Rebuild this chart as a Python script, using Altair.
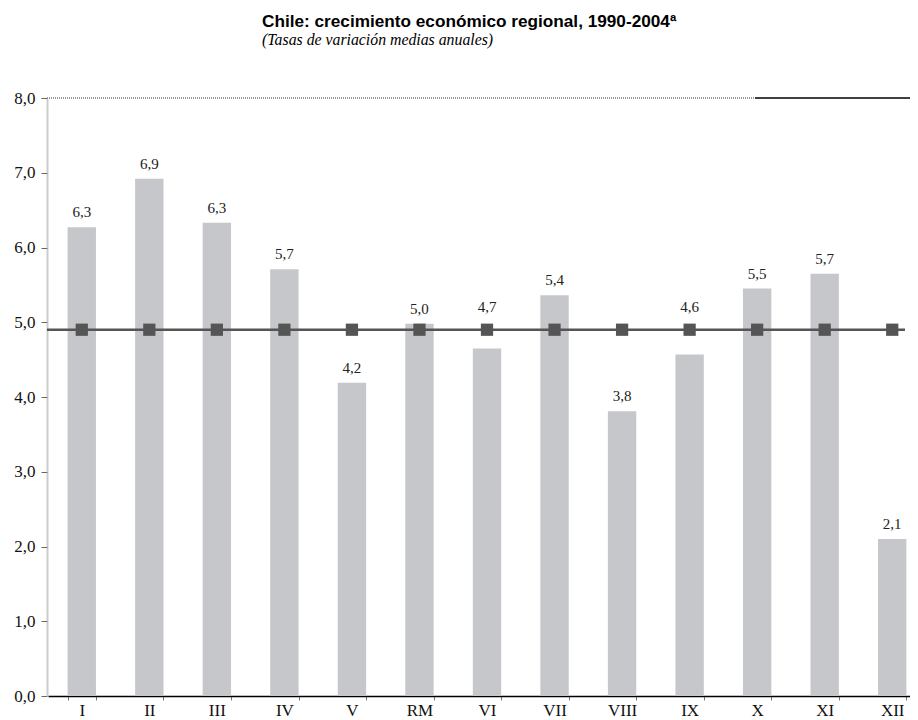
import altair as alt
import pandas as pd

regions = ["I", "II", "III", "IV", "V", "RM", "VI", "VII", "VIII", "IX", "X", "XI", "XII"]
growth = [6.27, 6.92, 6.33, 5.71, 4.19, 4.98, 4.65, 5.36, 3.81, 4.57, 5.45, 5.65, 2.10]
labels = ["6,3", "6,9", "6,3", "5,7", "4,2", "5,0", "4,7", "5,4", "3,8", "4,6", "5,5", "5,7", "2,1"]
national_avg = 4.9
y_ticks = [0, 1, 2, 3, 4, 5, 6, 7, 8]

# labels of bars just under the average line are lifted above the line
label_anchor = [max(v, national_avg + 0.1) if national_avg - 0.5 < v < national_avg else v
                for v in growth]

df = pd.DataFrame({"region": regions, "growth": growth, "label": labels,
                   "label_y": label_anchor,
                   "avg": [national_avg] * len(regions)})
avg_df = pd.DataFrame({"avg": [national_avg]})

W = 863          # visible plot width (the original is cut off at the right edge)
H = 598
X_RANGE = 879    # full extent of the category axis, partly beyond the visible area
serif = "Liberation Serif"

x_scale = alt.Scale(paddingInner=0.58, paddingOuter=0.29, range=[1, X_RANGE])

x_enc = alt.X("region:N", sort=regions, title=None, scale=x_scale,
              axis=alt.Axis(labelAngle=0, labelFont=serif, labelFontSize=17, labelColor="#111",
                            domainColor="#000", domainWidth=1.5, tickColor="#777",
                            tickBand="extent", tickSize=4, labelPadding=2))

y_scale = alt.Scale(domain=[0, 8], nice=False)

bars = alt.Chart(df).mark_bar(color="#c6c7cb").encode(
    x=x_enc,
    y=alt.Y("growth:Q", scale=y_scale, title=None,
            axis=alt.Axis(values=y_ticks, grid=False, labelFont=serif, labelFontSize=17,
                          labelColor="#111",
                          labelExpr="replace(format(datum.value, '.1f'), '.', ',')",
                          domainColor="#999", domainWidth=2, domainDash=[1, 1],
                          tickColor="#666", tickSize=6, labelPadding=6)),
)

text = alt.Chart(df).mark_text(font=serif, fontSize=15, color="#222", dy=-7, baseline="bottom").encode(
    x=alt.X("region:N", sort=regions, scale=x_scale),
    y=alt.Y("label_y:Q", scale=y_scale),
    text="label:N",
)

avg_line = alt.Chart(avg_df).mark_rule(color="#555", strokeWidth=2.5).encode(
    y=alt.Y("avg:Q", scale=y_scale),
    x=alt.value(0), x2=alt.value(858),
)

squares = alt.Chart(df).mark_square(color="#555", size=150, opacity=1).encode(
    x=alt.X("region:N", sort=regions, scale=x_scale),
    y=alt.Y("avg:Q", scale=y_scale),
)

top_gray = alt.Chart(avg_df).mark_rule(color="#999", strokeWidth=2, strokeDash=[1, 1]).encode(
    y=alt.value(0), x=alt.value(0), x2=alt.value(708),
)
top_black = alt.Chart(avg_df).mark_rule(color="#000", strokeWidth=1.5).encode(
    y=alt.value(0), x=alt.value(708), x2=alt.value(X_RANGE),
)

chart = alt.layer(bars, avg_line, squares, text, top_gray, top_black).properties(
    width=W, height=H,
    autosize=alt.AutoSizeParams(type="none"),
    padding={"left": 39, "top": 90, "right": 0, "bottom": 22},
    title=alt.TitleParams(
        text="Chile: crecimiento económico regional, 1990-2004ª",
        subtitle="(Tasas de variación medias anuales)",
        anchor="start", frame="group", dx=215,
        font="Liberation Sans", fontSize=17.2, fontWeight="bold", color="#000",
        subtitleFont=serif, subtitleFontSize=15.8, subtitleFontStyle="italic",
        subtitleColor="#000", subtitlePadding=3, offset=41,
    ),
).configure_view(stroke=None)

chart.save("out.html", embed_options={"renderer": "svg", "actions": False})
